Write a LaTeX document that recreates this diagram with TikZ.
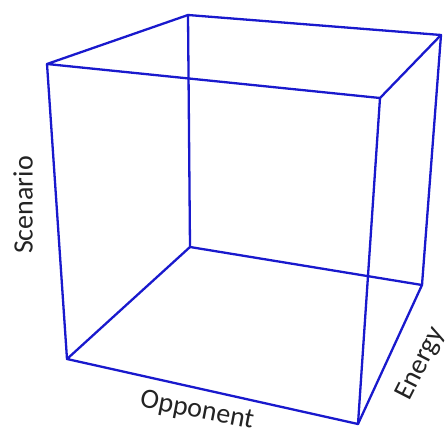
\documentclass[tikz,border=0pt]{standalone}
\usepackage{fontspec}
\setmainfont{Carlito}
\usepackage{xcolor}
\usepackage{tikz}
\definecolor{edgeB}{RGB}{25,25,205}
\definecolor{labK}{RGB}{35,35,35}

\begin{document}
\begin{tikzpicture}[
  x=1pt, y=-1pt,
  edge/.style={draw=edgeB, line width=2.3pt, line join=round, line cap=round},
  axislab/.style={font=\fontsize{28}{33}\selectfont, text=labK, inner sep=0pt}
]
\useasboundingbox (0,0) rectangle (445,434);

% corners (front / back, top / bottom)
\coordinate (btl) at (188,15);
\coordinate (btr) at (441,35);
\coordinate (ftl) at (47,64);
\coordinate (ftr) at (380,98);
\coordinate (bbl) at (190,247);
\coordinate (bbr) at (422,285);
\coordinate (fbl) at (67,359);
\coordinate (fbr) at (358,424);

% top face
\draw[edge] (ftl) -- (btl) -- (btr) -- (ftr) -- cycle;
% verticals
\draw[edge] (ftl) -- (fbl);
\draw[edge] (btl) -- (bbl);
\draw[edge] (btr) -- (bbr);
\draw[edge] (ftr) -- (fbr);
% bottom face
\draw[edge] (fbl) -- (bbl) -- (bbr) -- (fbr) -- cycle;

% axis labels
\node[axislab, rotate=90] (scen) at (23,205) {Scenario};
\node[axislab, rotate=-11] (opp) at (197,411) {Opponent};
\node[axislab, rotate=63] (ener) at (421,364) {Energy};

\end{tikzpicture}
\end{document}
